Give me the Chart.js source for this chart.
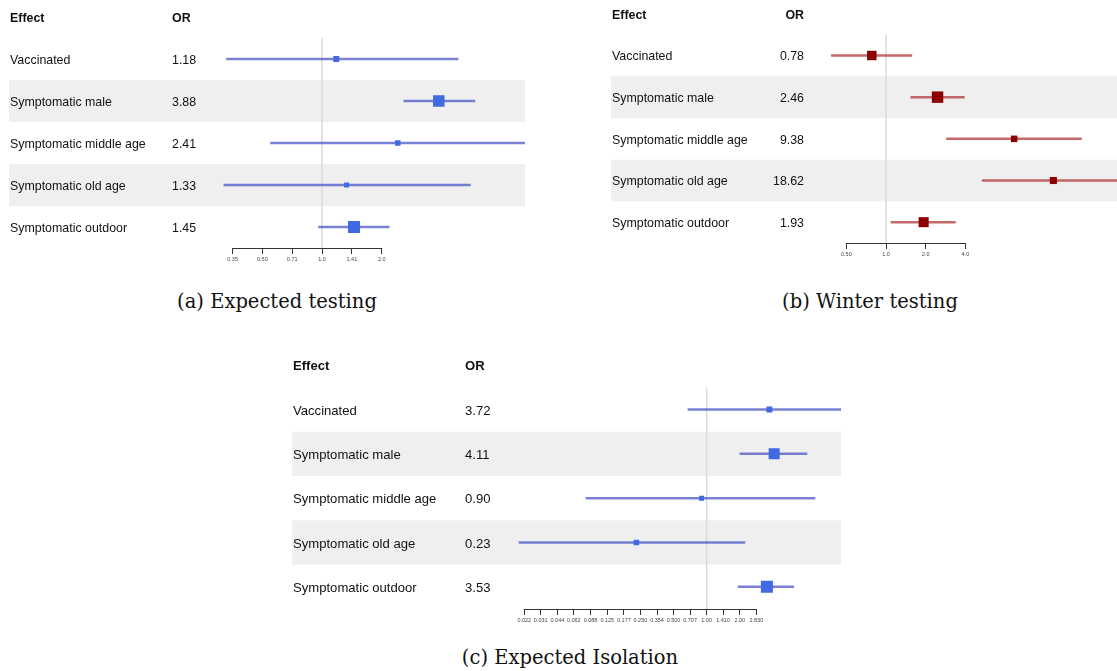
<!DOCTYPE html>
<html>
<head>
<meta charset="utf-8">
<script src="https://cdn.jsdelivr.net/npm/chart.js@4"></script>
<style>
    html, body { margin: 0; padding: 0; background: #fff; }
    body { width: 1117px; height: 671px; position: relative; overflow: hidden; }
    .panel { position: absolute; }
    .caption {
        position: absolute;
        font-family: 'DejaVu Serif', serif;
        font-size: 19.5px;
        line-height: 24px;
        color: #111;
        white-space: nowrap;
        transform: translateX(-50%);
    }
</style>
</head>
<body>
<div class="panel" style="left:0px;top:-10px;width:535px;height:291px"><canvas id="chartA"></canvas></div>
<div class="panel" style="left:602px;top:-12px;width:515px;height:287px"><canvas id="chartB"></canvas></div>
<div class="panel" style="left:283px;top:335px;width:568px;height:306px"><canvas id="chartC"></canvas></div>
<div class="caption" style="left:277px;top:290px">(a) Expected testing</div>
<div class="caption" style="left:870px;top:290px">(b) Winter testing</div>
<div class="caption" style="left:570px;top:646px">(c) Expected Isolation</div>

<script>
const effects = ['Vaccinated', 'Symptomatic male', 'Symptomatic middle age', 'Symptomatic old age', 'Symptomatic outdoor'];
const stripedRows = ['Symptomatic male', 'Symptomatic old age'];

// (a) Expected testing
const orA = [1.18, 3.88, 2.41, 1.33, 1.45];
const lowA = [0.33, 2.59, 0.55, 0.32, 0.96];
const highA = [4.85, 5.9, 11.5, 5.6, 2.18];
const tickValsA = [0.354, 0.5, 0.707, 1, 1.414, 2];
const tickLabelsA = ['0.35', '0.50', '0.71', '1.0', '1.41', '2.0'];

// (b) Winter testing
const orB = [0.78, 2.46, 9.38, 18.62, 1.93];
const lowB = [0.385, 1.54, 2.88, 5.37, 1.09];
const highB = [1.57, 3.93, 30.4, 80, 3.36];
const tickValsB = [0.5, 1, 2, 4];
const tickLabelsB = ['0.50', '1.0', '2.0', '4.0'];

// (c) Expected Isolation
const orC = [3.72, 4.11, 0.90, 0.23, 3.53];
const lowC = [0.676, 2.01, 0.080, 0.0197, 1.93];
const highC = [20, 8.17, 9.66, 2.23, 6.2];
const tickValsC = [0.022, 0.031, 0.044, 0.062, 0.088, 0.125, 0.177, 0.250, 0.354, 0.500, 0.707, 1.00, 1.410, 2.00, 2.830];
const tickLabelsC = ['0.022', '0.031', '0.044', '0.062', '0.088', '0.125', '0.177', '0.250', '0.354', '0.500', '0.707', '1.00', '1.410', '2.00', '2.830'];

document.addEventListener('DOMContentLoaded', function() {
    const labelFont = "'Liberation Sans', Arial, sans-serif";
    const textColor = '#111111';
    const tickColor = '#444444';
    const axisColor = '#333333';
    const stripeColor = '#efefef';
    const refColor = '#dadada';

    const blueBox = '#4169e1';
    const blueLine = 'rgba(70, 80, 195, 0.72)';
    const redBox = '#8b0000';
    const redLine = 'rgba(170, 35, 35, 0.68)';

    // stripes behind rows, reference line at OR = 1, axis line only across the ticks
    const forestDecor = {
        id: 'forestDecor',
        beforeDraw(chart) {
            const { ctx, chartArea } = chart;
            const y = chart.scales.y;
            const labels = y.getLabels();
            const half = (y.getPixelForValue(1) - y.getPixelForValue(0)) / 2;
            const left = y.left - 1;
            ctx.save();
            ctx.fillStyle = stripeColor;
            stripedRows.forEach(name => {
                const c = y.getPixelForValue(labels.indexOf(name));
                ctx.fillRect(left, c - half, chartArea.right - left, 2 * half);
            });
            ctx.restore();
        },
        beforeDatasetsDraw(chart) {
            const { ctx, chartArea } = chart;
            const x = chart.scales.x;
            const y = chart.scales.y;
            const px = x.getPixelForValue(1);
            ctx.save();
            ctx.strokeStyle = refColor;
            ctx.lineWidth = 1.5;
            ctx.beginPath();
            ctx.moveTo(px, y.getPixelForValue(0.5));
            ctx.lineTo(px, chartArea.bottom);
            ctx.stroke();

            const t = x.ticks;
            ctx.strokeStyle = axisColor;
            ctx.lineWidth = 1;
            ctx.beginPath();
            ctx.moveTo(x.getPixelForValue(t[0].value) - 0.5, x.top + 0.5);
            ctx.lineTo(x.getPixelForValue(t[t.length - 1].value) + 0.5, x.top + 0.5);
            ctx.stroke();
            ctx.restore();
        }
    };

    // drop the label overhang padding chart.js adds, the layout is set by hand
    function noPad(scale) {
        scale.paddingLeft = 0;
        scale.paddingRight = 0;
        scale.paddingTop = 0;
        scale.paddingBottom = 0;
    }

    function createForest(canvasId, p) {
        const yLabels = ['Effect'].concat(effects);
        const orLabels = ['OR'].concat(p.or.map(v => v.toFixed(2)));
        const rowFont = ctx => ({ family: labelFont, size: p.fontSize, weight: ctx.index === 0 ? 'bold' : 'normal' });

        return new Chart(document.getElementById(canvasId), {
            type: 'bar',
            data: {
                labels: yLabels,
                datasets: [
                    {
                        type: 'scatter',
                        order: 0,
                        xAxisID: 'x',
                        yAxisID: 'y',
                        data: effects.map((e, i) => ({ x: p.or[i], y: e })),
                        pointStyle: 'rect',
                        pointRadius: p.radii,
                        pointBackgroundColor: p.boxColor,
                        pointBorderWidth: 0
                    },
                    {
                        type: 'bar',
                        order: 1,
                        xAxisID: 'x',
                        yAxisID: 'y',
                        data: effects.map((e, i) => ({ x: [p.low[i], p.high[i]], y: e })),
                        backgroundColor: p.lineColor,
                        borderWidth: 0,
                        barThickness: 1.8
                    }
                ]
            },
            options: {
                indexAxis: 'y',
                responsive: true,
                maintainAspectRatio: false,
                animation: false,
                events: [],
                layout: { padding: p.padding, autoPadding: false },
                plugins: {
                    legend: { display: false },
                    tooltip: { enabled: false }
                },
                scales: {
                    x: {
                        type: 'logarithmic',
                        position: 'bottom',
                        min: p.xMin,
                        max: p.xMax,
                        bounds: 'data',
                        afterBuildTicks: scale => { scale.ticks = p.tickVals.map(v => ({ value: v })); },
                        afterFit: scale => { scale.height = 22; noPad(scale); },
                        ticks: {
                            autoSkip: false,
                            maxRotation: 0,
                            minRotation: 0,
                            padding: 2,
                            color: tickColor,
                            font: { family: labelFont, size: 5.5 },
                            callback: (value, index) => p.tickLabels[index]
                        },
                        grid: { display: true, drawOnChartArea: false, drawTicks: true, tickLength: 6, color: axisColor, lineWidth: 1 },
                        border: { display: false }
                    },
                    y: {
                        type: 'category',
                        axis: 'y',
                        position: 'left',
                        weight: 2,
                        labels: yLabels,
                        offset: true,
                        afterFit: scale => { scale.width = p.labelWidth; noPad(scale); },
                        ticks: { crossAlign: 'far', labelOffset: 1.5, autoSkip: false, color: textColor, font: rowFont },
                        grid: { display: false, drawTicks: false },
                        border: { display: false }
                    },
                    yOR: {
                        type: 'category',
                        axis: 'y',
                        position: 'left',
                        weight: 1,
                        labels: orLabels,
                        offset: true,
                        afterFit: scale => { scale.width = p.orWidth; noPad(scale); },
                        ticks: { crossAlign: p.orAlign, padding: p.orPadding, labelOffset: 1.5, autoSkip: false, color: textColor, font: rowFont },
                        grid: { display: false, drawTicks: false },
                        border: { display: false }
                    }
                }
            },
            plugins: [forestDecor]
        });
    }

    createForest('chartA', {
        or: orA, low: lowA, high: highA, tickVals: tickValsA, tickLabels: tickLabelsA,
        xMin: 0.2885, xMax: 10.56,
        radii: [4.2, 8.1, 3.9, 3.6, 8.5],
        boxColor: blueBox, lineColor: blueLine,
        fontSize: 12.4, labelWidth: 162, orWidth: 43, orAlign: 'far', orPadding: 0,
        padding: { left: 10, right: 10, top: 6, bottom: 11 }
    });

    createForest('chartB', {
        or: orB, low: lowB, high: highB, tickVals: tickValsB, tickLabels: tickLabelsB,
        xMin: 0.2743, xMax: 56.6,
        radii: [6.7, 8.1, 4.6, 5.0, 7.1],
        boxColor: redBox, lineColor: redLine,
        fontSize: 12.4, labelWidth: 150, orWidth: 50, orAlign: 'near', orPadding: 8,
        padding: { left: 10, right: 0, top: 5, bottom: 10 }
    });

    createForest('chartC', {
        or: orC, low: lowC, high: highC, tickVals: tickValsC, tickLabels: tickLabelsC,
        xMin: 0.01631, xMax: 16.65,
        radii: [4.2, 7.8, 3.5, 3.9, 8.5],
        boxColor: blueBox, lineColor: blueLine,
        fontSize: 13.1, labelWidth: 172, orWidth: 45, orAlign: 'far', orPadding: 0,
        padding: { left: 10, right: 10, top: 8, bottom: 10 }
    });
});
</script>
</body>
</html>
